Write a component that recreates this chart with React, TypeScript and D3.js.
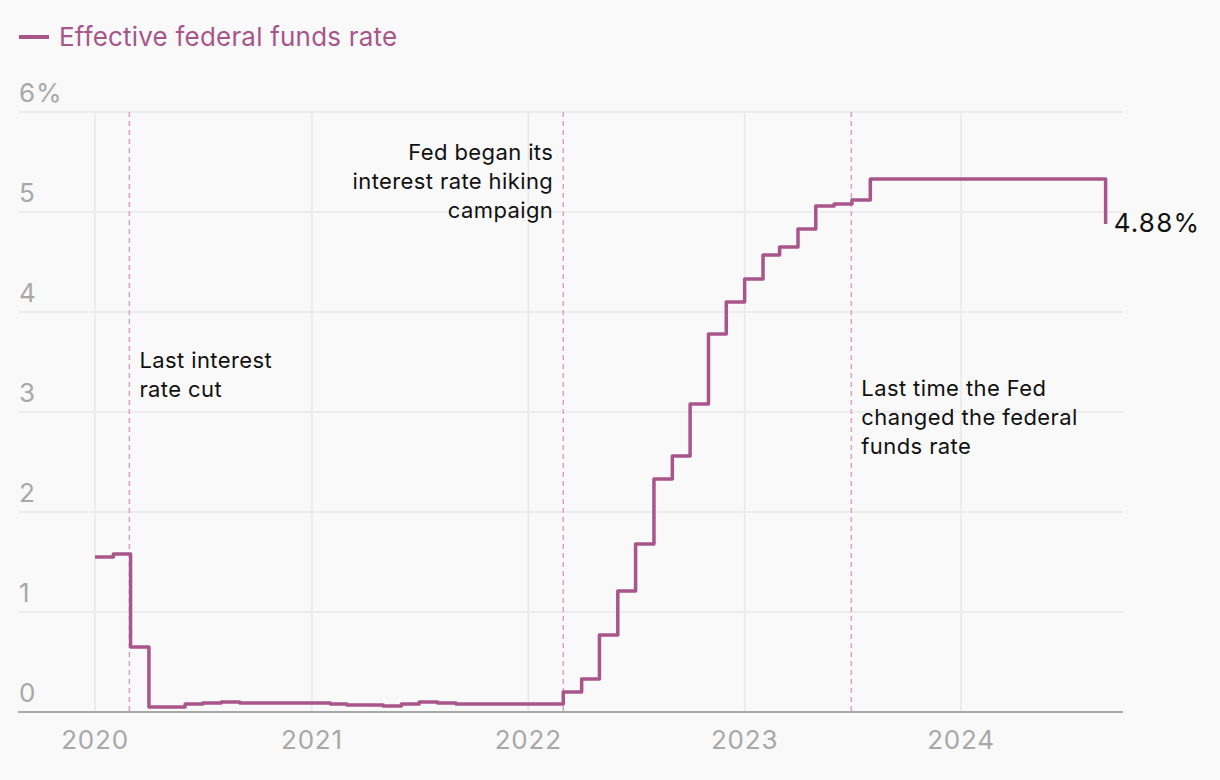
import * as React from "react";
import * as d3 from "d3";

// monthly effective federal funds rate, Jan 2020 .. Sep 2024
const startMonth = "2020-01";
const rates2020 = [1.55, 1.58, 0.65, 0.05, 0.05, 0.08, 0.09, 0.1, 0.09, 0.09, 0.09, 0.09];
const rates2021 = [0.09, 0.08, 0.07, 0.07, 0.06, 0.08, 0.1, 0.09, 0.08, 0.08, 0.08, 0.08];
const rates2022 = [0.08, 0.08, 0.2, 0.33, 0.77, 1.21, 1.68, 2.33, 2.56, 3.08, 3.78, 4.1];
const rates2023 = [4.33, 4.57, 4.65, 4.83, 5.06, 5.08, 5.12, 5.33, 5.33, 5.33, 5.33, 5.33];
const rates2024 = [5.33, 5.33, 5.33, 5.33, 5.33, 5.33, 5.33, 5.33, 4.88];

const yTicks = [0, 1, 2, 3, 4, 5, 6];
const xTickYears = [2020, 2021, 2022, 2023, 2024];

const annotations = [
  { date: "2020-02-28", lines: ["Last interest", "rate cut"], side: "right", top: 368 },
  { date: "2022-03-01", lines: ["Fed began its", "interest rate hiking", "campaign"], side: "left", top: 160 },
  { date: "2023-06-30", lines: ["Last time the Fed", "changed the federal", "funds rate"], side: "right", top: 396 },
];

const lineColor = "#a8568a";

const App: React.FunctionComponent = () => {
  const w = 1220;
  const h = 780;

  const allRates = [...rates2020, ...rates2021, ...rates2022, ...rates2023, ...rates2024];
  const t0 = d3.utcParse("%Y-%m")(startMonth) as Date;
  const data = allRates.map((v, i) => ({ date: d3.utcMonth.offset(t0, i), value: v }));

  const x = d3
    .scaleUtc()
    .domain([new Date(Date.UTC(2020, 0, 1)), new Date(Date.UTC(2024, 0, 1))])
    .range([95, 961]);
  const y = d3.scaleLinear().domain([0, 6]).range([712, 112]);

  const left = 19;
  const right = 1123;

  const line = d3
    .line<{ date: Date; value: number }>()
    .x((d) => x(d.date))
    .y((d) => y(d.value))
    .curve(d3.curveStepAfter);

  const last = data[data.length - 1];
  const font = "Inter, 'Noto Sans', sans-serif";

  return (
    <svg width={w} height={h} style={{ position: "absolute", left: 0, top: 0, background: "#f9f9f9" }} fontFamily={font}>
      <rect width={w} height={h} fill="#f9f9f9" />
      {/* legend */}
      <line x1={19} x2={49} y1={37} y2={37} stroke={lineColor} strokeWidth={4} />
      <text x={59} y={46} fontSize={26} letterSpacing={0.2} fill={lineColor}>
        Effective federal funds rate
      </text>

      {/* horizontal grid + y labels */}
      {yTicks.map((t) => (
        <g key={t}>
          {t > 0 && <line x1={left} x2={right} y1={y(t)} y2={y(t)} stroke="#e8e8e8" strokeWidth={1.5} />}
          <text x={left} y={y(t) - 10} fontSize={26} letterSpacing={0.8} fill="#a8a8a8">
            {t === 6 ? "6%" : t}
          </text>
        </g>
      ))}

      {/* vertical grid + x labels */}
      {xTickYears.map((yr) => {
        const xx = x(new Date(Date.UTC(yr, 0, 1)));
        return (
          <g key={yr}>
            <line x1={xx} x2={xx} y1={y(6)} y2={y(0)} stroke="#e8e8e8" strokeWidth={1.5} />
            <text x={xx} y={749} fontSize={26} letterSpacing={0.8} fill="#a8a8a8" textAnchor="middle">
              {yr}
            </text>
          </g>
        );
      })}

      {/* annotation dashed lines */}
      {annotations.map((a) => {
        const xx = x(d3.utcParse("%Y-%m-%d")(a.date) as Date);
        const tx = a.side === "right" ? xx + 10 : xx - 10;
        return (
          <g key={a.date}>
            <line x1={xx} x2={xx} y1={y(6)} y2={y(0)} stroke="#d8a2c3" strokeWidth={1.5} strokeDasharray="5,4" />
            <text
              x={tx}
              y={a.top}
              fontSize={22}
              letterSpacing={0.4}
              fill="#111"
              textAnchor={a.side === "right" ? "start" : "end"}
            >
              {a.lines.map((l, i) => (
                <tspan key={i} x={tx} dy={i === 0 ? 0 : 29}>
                  {l}
                </tspan>
              ))}
            </text>
          </g>
        );
      })}

      {/* baseline */}
      <line x1={18} x2={right} y1={y(0)} y2={y(0)} stroke="#a8a8a8" strokeWidth={2} />

      {/* series */}
      <path d={line(data) ?? ""} fill="none" stroke={lineColor} strokeWidth={3.5} strokeLinejoin="round" />

      <text x={x(last.date) + 8} y={y(last.value) + 8} fontSize={26} letterSpacing={1.2} fill="#111">
        {last.value.toFixed(2)}%
      </text>
    </svg>
  );
};

export default App;
